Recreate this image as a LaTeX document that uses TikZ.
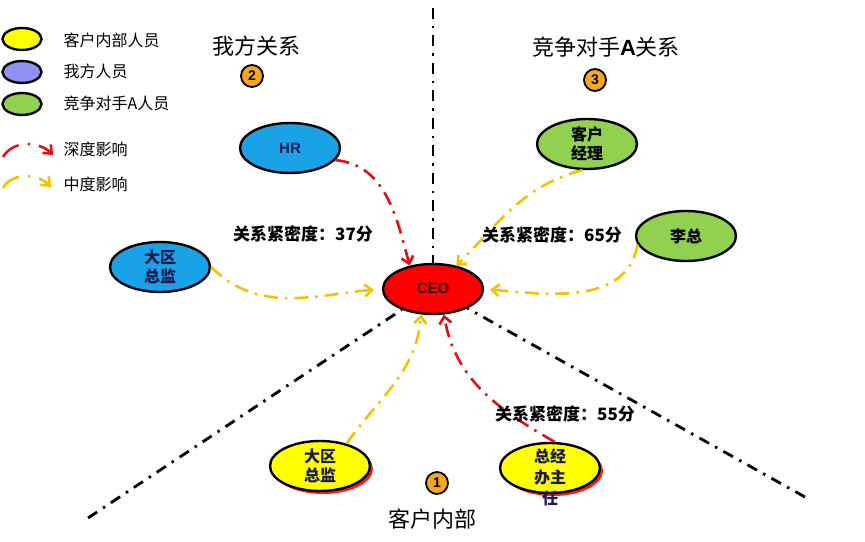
\documentclass[tikz,border=0pt]{standalone}
\usepackage{fontspec}
\setmainfont{Noto Sans CJK SC}
\newfontfamily\lib{Liberation Sans}
\usetikzlibrary{shapes.geometric,arrows.meta,shadows}
\definecolor{nodeblue}{HTML}{1AA2E6}
\definecolor{legblue}{HTML}{8F8FF5}
\definecolor{ngreen}{HTML}{92D050}
\definecolor{nyellow}{HTML}{FFFF00}
\definecolor{lgold}{HTML}{F2C200}
\definecolor{lred}{HTML}{E0101A}
\definecolor{corange}{HTML}{F5A81C}
\definecolor{ntxt}{HTML}{1A1A50}
\tikzset{
  ell/.style={ellipse, draw=black, line width=2.4pt, minimum width=100pt, minimum height=50pt, inner sep=0pt},
  legell/.style={ellipse, draw=black, line width=2.4pt, minimum width=39pt, minimum height=22pt, inner sep=0pt},
  ntext/.style={align=center, text=ntxt, font=\bfseries\fontsize{16}{19}\selectfont},
  latin/.style={text=ntxt, font=\lib\bfseries\fontsize{15}{15}\selectfont},
  sepline/.style={line width=2.8pt, dash pattern=on 11pt off 7pt on 2.5pt off 7pt},
  rarr/.style={draw=lred, line width=2.6pt, dash pattern=on 14pt off 7pt on 2.5pt off 7pt, -{Straight Barb[length=7pt,width=12pt]}},
  yarr/.style={draw=lgold, line width=2.6pt, dash pattern=on 14pt off 7pt on 2.5pt off 7pt, -{Straight Barb[length=7pt,width=12pt]}},
  badge/.style={circle, draw=black, line width=1.8pt, fill=corange, minimum size=22pt, inner sep=0pt, font=\lib\bfseries\fontsize{14}{14}\selectfont},
  title/.style={font=\fontsize{22}{22}\selectfont},
  legtext/.style={anchor=west, font=\fontsize{16}{16}\selectfont},
  score/.style={font=\bfseries\fontsize{17}{17}\selectfont},
  glow/.style={drop shadow={shadow xshift=3pt, shadow yshift=-3pt, fill=red, opacity=0.9}}
}
\begin{document}
\begin{tikzpicture}[x=1pt,y=1pt]
\fill[white] (0,0) rectangle (865,541);
\useasboundingbox (0,0) rectangle (865,541);

% legend
\node[legell, fill=nyellow] (le1) at (22,502) {};
\node[legell, fill=legblue] (le2) at (22,469) {};
\node[legell, fill=ngreen] (le3) at (22,437) {};
\node[legtext] (lt1) at (60,501) {客户内部人员};
\node[legtext] (lt2) at (60,470) {我方人员};
\node[legtext] (lt3) at (60,438) {竞争对手A人员};
\node[legtext] (lt4) at (60,392) {深度影响};
\node[legtext] (lt5) at (60,357) {中度影响};
\coordinate (lra) at (3,384);
\coordinate (lrb) at (53,386);
\coordinate (lya) at (3,353);
\coordinate (lyb) at (51,354);
\draw[rarr, dash pattern=on 20pt off 9pt on 2.5pt off 9pt] (lra) to[out=60,in=135] (lrb);
\draw[yarr, dash pattern=on 20pt off 9pt on 2.5pt off 9pt] (lya) to[out=60,in=135] (lyb);

% titles and badges
\node[title] (t2) at (256,495) {我方关系};
\node[title] (t3) at (606,494) {竞争对手{\lib\bfseries A}关系};
\node[title] (t1) at (432,22) {客户内部};
\node[badge] (b2) at (252,465) {2};
\node[badge] (b3) at (595,461) {3};
\node[badge] (b1) at (437,58) {1};

% nodes
\node[ell, fill=red] (ceo) at (433,252) {};
\node[latin, text=black!85!red] (ceot) at (433,253) {CEO};
\node[ell, fill=nodeblue] (hr) at (290,393) {};
\node[latin] (hrt) at (290,393) {HR};
\node[ell, fill=nodeblue] (bdq) at (160,274) {};
\node[ntext] (bdqt) at (160,274) {大区\\总监};
\node[ell, fill=ngreen] (kjl) at (587,397) {};
\node[ntext, text=black] (kjlt) at (587,397) {客户\\经理};
\node[ell, fill=ngreen] (lz) at (686,305) {};
\node[ntext, text=black] (lzt) at (686,305) {李总};
\node[ell, fill=nyellow, glow] (ydq) at (320,75) {};
\node[ntext] (ydqt) at (320,75) {大区\\总监};
\node[ell, fill=nyellow, glow] (zjb) at (550,73) {};
\node[ntext, font=\bfseries\fontsize{16}{21}\selectfont] (zjbt) at (550,64) {总经\\办主\\任};

% separators
\coordinate (vtop) at (433,533);
\coordinate (ll) at (88,23);
\coordinate (rr) at (805,44);
\draw[sepline] (vtop) -- (ceo);
\draw[sepline] (ll) -- (ceo);
\draw[sepline] (rr) -- (ceo);

% influence arrows
\draw[rarr] (hr.-15) to[out=-5,in=105] (ceo.135);
\draw[yarr, shorten >=8pt] (bdq.east) to[out=-45,in=185] (ceo.west);
\draw[yarr] (kjl.-100) to[out=195,in=45] (ceo.45);
\draw[yarr, shorten >=6pt] (lz.190) to[out=-100,in=-5] (ceo.east);
\draw[yarr] (ydq.40) to[out=55,in=-95] (ceo.-115);
\draw[rarr] (zjb.80) to[out=150,in=-80] (ceo.-67);

% scores
\node[score] (s1) at (303,307) {关系紧密度：37分};
\node[score] (s2) at (552,306) {关系紧密度：65分};
\node[score] (s3) at (565,127) {关系紧密度：55分};
\end{tikzpicture}
\end{document}
